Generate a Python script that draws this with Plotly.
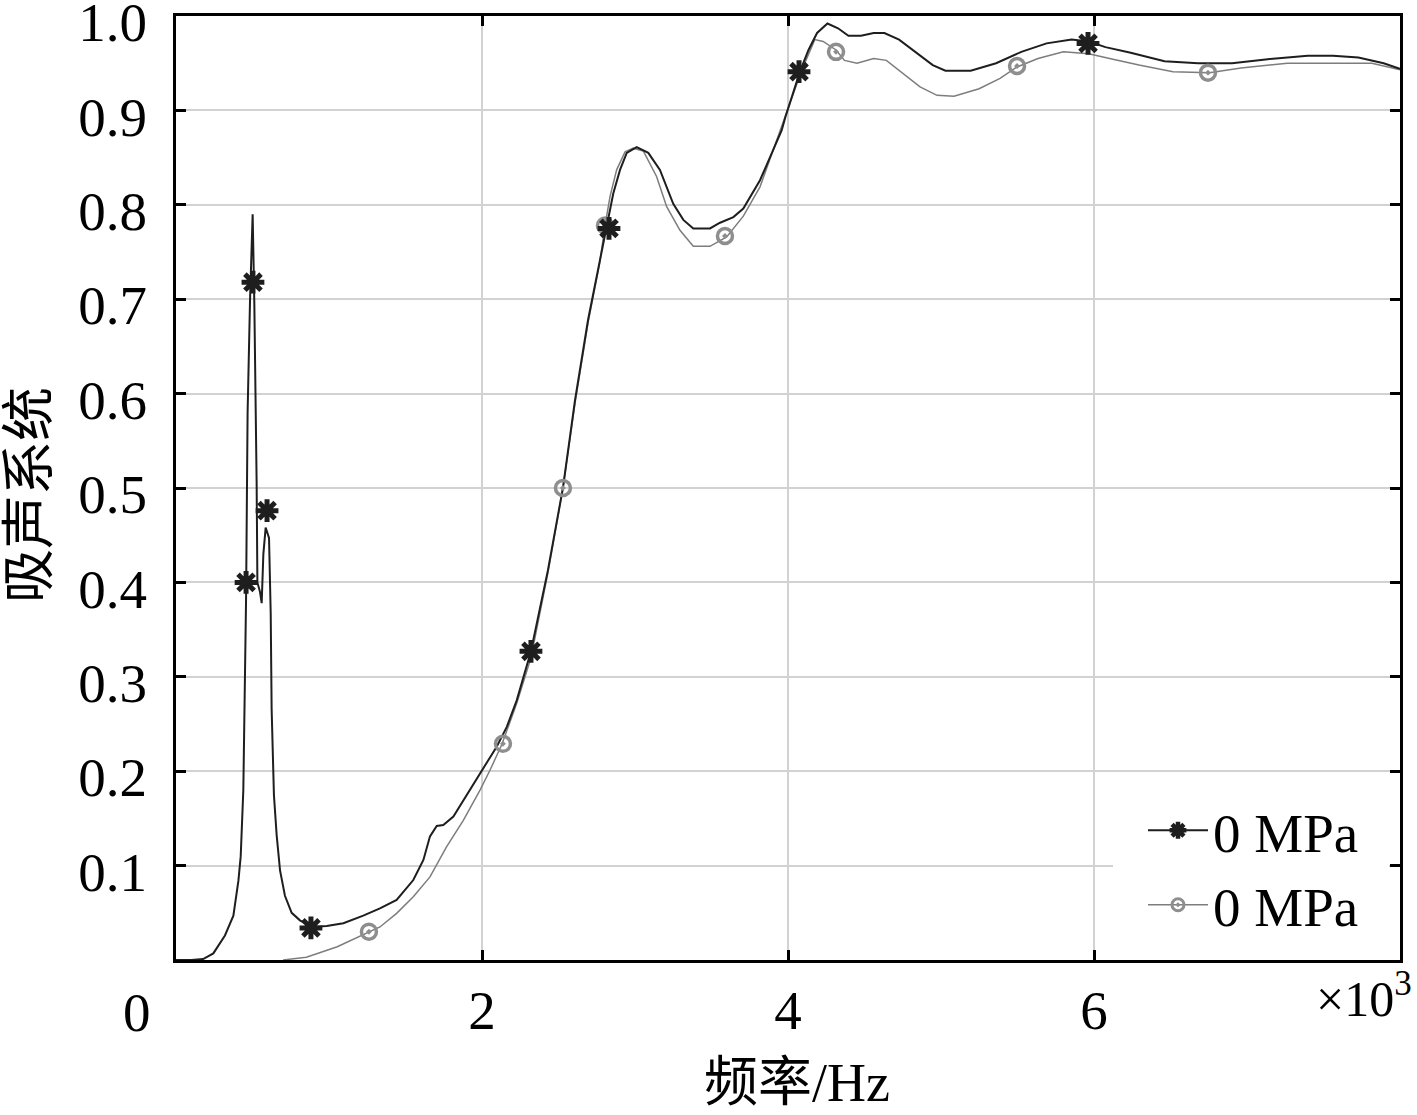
import plotly.graph_objects as go

# ---- data (frequency in Hz, absorption coefficient) ----
black_x = [0, 100, 177, 244, 320, 375, 408, 423, 440, 458, 468, 484, 501, 512, 527, 532, 549, 560,
           571, 586, 608, 619, 625, 640, 658, 680, 712, 756, 810, 887, 985, 1094, 1224, 1333, 1442,
           1551, 1617, 1660, 1704, 1747, 1813, 1900, 1987, 2031, 2096, 2162, 2227, 2320, 2431, 2529,
           2608, 2693, 2771, 2815, 2858, 2902, 2946, 3011, 3087, 3163, 3250, 3316, 3381, 3490, 3556,
           3643, 3708, 3817, 3904, 3959, 3983, 4078, 4134, 4190, 4258, 4327, 4395, 4477, 4560, 4630,
           4726, 4837, 4946, 5029, 5194, 5360, 5525, 5690, 5854, 5965, 6075, 6240, 6461, 6680, 6902,
           7121, 7397, 7562, 7728, 7893, 8000]
black_y = [0, 0, 0.001, 0.007, 0.026, 0.047, 0.084, 0.11, 0.18, 0.383, 0.58, 0.70, 0.79, 0.695,
           0.506, 0.40, 0.39, 0.378, 0.43, 0.458, 0.447, 0.367, 0.266, 0.175, 0.132, 0.095, 0.068,
           0.05, 0.042, 0.035, 0.036, 0.039, 0.047, 0.0547, 0.0636, 0.0847, 0.106, 0.131, 0.142,
           0.143, 0.152, 0.175, 0.198, 0.210, 0.226, 0.247, 0.275, 0.327, 0.413, 0.5, 0.593, 0.678,
           0.742, 0.777, 0.812, 0.837, 0.855, 0.861, 0.855, 0.837, 0.801, 0.784, 0.775, 0.775, 0.781,
           0.787, 0.796, 0.826, 0.858, 0.879, 0.893, 0.941, 0.964, 0.982, 0.992, 0.987, 0.979, 0.979,
           0.982, 0.982, 0.975, 0.961, 0.948, 0.942, 0.942, 0.95, 0.962, 0.971, 0.975, 0.973, 0.967,
           0.961, 0.952, 0.95, 0.95, 0.954, 0.958, 0.958, 0.956, 0.95, 0.944]
black_mx = [458, 503, 595, 882, 2320, 2830, 4072, 5961]
black_my = [0.40, 0.718, 0.476, 0.034, 0.327, 0.775, 0.941, 0.971]

gray_x = [700, 852, 1054, 1261, 1333, 1442, 1551, 1660, 1769, 1878, 1987, 2052, 2129, 2227, 2320,
          2431, 2529, 2608, 2693, 2771, 2804, 2837, 2880, 2935, 2989, 3054, 3141, 3207, 3294, 3381,
          3490, 3599, 3708, 3817, 3948, 3983, 4091, 4175, 4230, 4314, 4369, 4451, 4560, 4643, 4753,
          4863, 4974, 5085, 5249, 5386, 5497, 5634, 5800, 5965, 6131, 6294, 6516, 6754, 6961, 7264,
          7540, 7816, 8000]
gray_y = [0, 0.003, 0.014, 0.030, 0.035, 0.0494, 0.067, 0.088, 0.12, 0.148, 0.18, 0.201, 0.228,
          0.272, 0.32, 0.41, 0.5, 0.59, 0.675, 0.74, 0.778, 0.809, 0.837, 0.856, 0.86, 0.857, 0.83,
          0.798, 0.773, 0.756, 0.756, 0.766, 0.788, 0.819, 0.879, 0.893, 0.943, 0.975, 0.973, 0.964,
          0.953, 0.95, 0.955, 0.953, 0.939, 0.925, 0.916, 0.915, 0.923, 0.934, 0.946, 0.955, 0.962,
          0.96, 0.954, 0.948, 0.941, 0.94, 0.945, 0.95, 0.95, 0.95, 0.943]
gray_mx = [1261, 2137, 2529, 2804, 3588, 4314, 5497, 6745]
gray_my = [0.030, 0.229, 0.5, 0.778, 0.767, 0.962, 0.947, 0.940]

series_names = ["0 MPa", "0 MPa"]
x_tick_vals = [2000, 4000, 6000]
x_tick_text = ["2", "4", "6"]
y_tick_vals = [0.1, 0.2, 0.3, 0.4, 0.5, 0.6, 0.7, 0.8, 0.9, 1.0]
y_tick_text = ["0.1", "0.2", "0.3", "0.4", "0.5", "0.6", "0.7", "0.8", "0.9", "1.0"]

BLACK = "#1e1e1e"
GRAY = "#7d7d7d"
GRAY_M = "#8e8e8e"
SERIF = "Liberation Serif, Times New Roman, serif"
CJK = "Liberation Serif, Noto Sans CJK SC, serif"

# plot box in page pixels (page body margin is removed after render)
PL, PR, PT, PB = 176, 1400, 16, 960
W, H = 1417, 1115
PW, PH = PR - PL, PB - PT


def px(xp):
    return (xp - PL) / PW


def py(yp):
    return (PB - yp) / PH


fig = go.Figure()
fig.add_trace(go.Scatter(x=gray_x, y=gray_y, mode="lines", line=dict(color=GRAY, width=1.5),
                         showlegend=False, hoverinfo="skip"))
fig.add_trace(go.Scatter(x=black_x, y=black_y, mode="lines", line=dict(color=BLACK, width=2),
                         showlegend=False, hoverinfo="skip"))
fig.add_trace(go.Scatter(x=gray_mx, y=gray_my, mode="markers", showlegend=False,
                         marker=dict(symbol="circle-open-dot", size=15, color=GRAY_M,
                                     line=dict(color=GRAY_M, width=3.5))))
fig.add_trace(go.Scatter(x=black_mx, y=black_my, mode="markers", showlegend=False,
                         marker=dict(symbol="asterisk-open", size=19, color=BLACK,
                                     line=dict(color=BLACK, width=5))))
# legend entries
fig.add_trace(go.Scatter(x=[None], y=[None], mode="lines+markers", name=series_names[0],
                         line=dict(color=BLACK, width=2),
                         marker=dict(symbol="asterisk-open", size=14, color=BLACK,
                                     line=dict(color=BLACK, width=4.5))))
fig.add_trace(go.Scatter(x=[None], y=[None], mode="lines+markers", name=series_names[1],
                         line=dict(color=GRAY, width=1.5),
                         marker=dict(symbol="circle-open-dot", size=12, color=GRAY_M,
                                     line=dict(color=GRAY_M, width=3))))

axis_common = dict(showline=True, linecolor="black", linewidth=3, mirror="ticks",
                   ticks="inside", ticklen=10, tickwidth=3, tickcolor="black",
                   showgrid=True, gridcolor="#d2d2d2", gridwidth=2, zeroline=False,
                   ticklabeloverflow="allow", automargin=False,
                   tickfont=dict(family=SERIF, size=55, color="black"))

fig.update_xaxes(range=[0, 8000], tickmode="array", tickvals=x_tick_vals, ticktext=x_tick_text,
                 **axis_common)
fig.update_yaxes(range=[0, 1], tickmode="array", tickvals=y_tick_vals, ticktext=y_tick_text,
                 ticklabelstandoff=15, ticklabelshift=6, **axis_common)

fig.update_layout(
    width=W, height=H,
    margin=dict(l=PL, r=W - PR, t=PT, b=H - PB, autoexpand=False),
    paper_bgcolor="white", plot_bgcolor="white",
    showlegend=True,
    legend=dict(x=px(1364), xanchor="right", y=py(788), yanchor="top", bgcolor="white",
                font=dict(family=SERIF, size=55, color="black"), itemwidth=60,
                tracegroupgap=0),
    shapes=[
        dict(type="rect", xref="paper", yref="paper", x0=px(1113), x1=px(1389),
             y0=py(957), y1=py(800), fillcolor="white", line=dict(width=0), layer="above"),
    ],
    annotations=[
        dict(text="0", xref="paper", yref="paper", x=px(137), y=py(1012),
             showarrow=False, font=dict(family=SERIF, size=55, color="black"),
             xanchor="center", yanchor="middle"),
        dict(text="×10<sup>3</sup>", xref="paper", yref="paper", x=px(1414),
             y=py(996), showarrow=False, font=dict(family=SERIF, size=50, color="black"),
             xanchor="right", yanchor="middle"),
        dict(text="频率/Hz", xref="paper", yref="paper", x=px(797),
             y=py(1083), showarrow=False, font=dict(family=CJK, size=54, color="black"),
             xanchor="center", yanchor="middle"),
        dict(text="吸声系统", xref="paper", yref="paper", x=px(30),
             y=py(495), showarrow=False, textangle=-90,
             font=dict(family=CJK, size=54, color="black"),
             xanchor="center", yanchor="middle"),
    ],
)

fig.write_html("out.html", config={"displayModeBar": False},
               post_script="document.body.style.margin='0px';")
